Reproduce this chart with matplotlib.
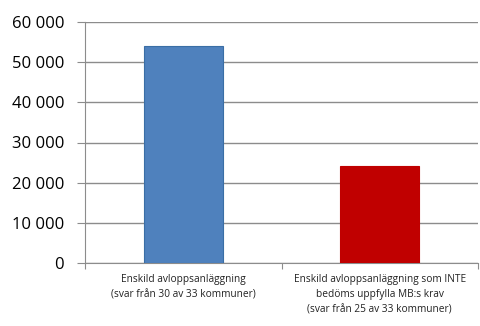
import matplotlib
matplotlib.use("Agg")
import matplotlib.pyplot as plt
from matplotlib.ticker import FuncFormatter

# Données
categories = [
    "Enskild avloppsanläggning\n(svar från 30 av 33 kommuner)",
    "Enskild avloppsanläggning som INTE\nbedöms uppfylla MB:s krav\n(svar från 25 av 33 kommuner)",
]
values = [54000, 24200]
colors = ["#4f81bd", "#c00000"]
edges = ["#3a6ea5", "#c00000"]

fig = plt.figure(figsize=(4.8, 3.26), dpi=100)
ax = fig.add_axes([85 / 480, 1 - 263.3 / 326, 393 / 480, (263.3 - 21.7) / 326])

x = range(len(values))
ax.bar(x, values, width=0.4, color=colors, edgecolor=edges, linewidth=0.8, zorder=3)

ax.set_xlim(-0.5, 1.5)
ax.set_ylim(0, 60000)
ax.set_yticks(range(0, 60001, 10000))
ax.yaxis.set_major_formatter(FuncFormatter(lambda v, p: f"{int(v):,}".replace(",", " ")))
ax.grid(axis="y", color="#8c8c8c", linewidth=1.0, zorder=0)

# Étiquettes des catégories sous l'axe
ax.set_xticks([-0.5, 0.5, 1.5])
ax.set_xticklabels([])
for i, lab in enumerate(categories):
    ax.text(i, -0.045, lab, transform=ax.get_xaxis_transform(), ha="center", va="top",
            fontsize=7.3, color="#222222", linespacing=1.5, family="Open Sans")

for s in ["top", "right"]:
    ax.spines[s].set_visible(False)
for s in ["left", "bottom"]:
    ax.spines[s].set_color("#8c8c8c")
ax.tick_params(axis="y", length=5.5, color="#8c8c8c", labelsize=12, pad=9.5)
ax.tick_params(axis="x", length=4, color="#8c8c8c")
for t in ax.get_yticklabels():
    t.set_family("Open Sans")

fig.savefig("out.png", dpi=100)
